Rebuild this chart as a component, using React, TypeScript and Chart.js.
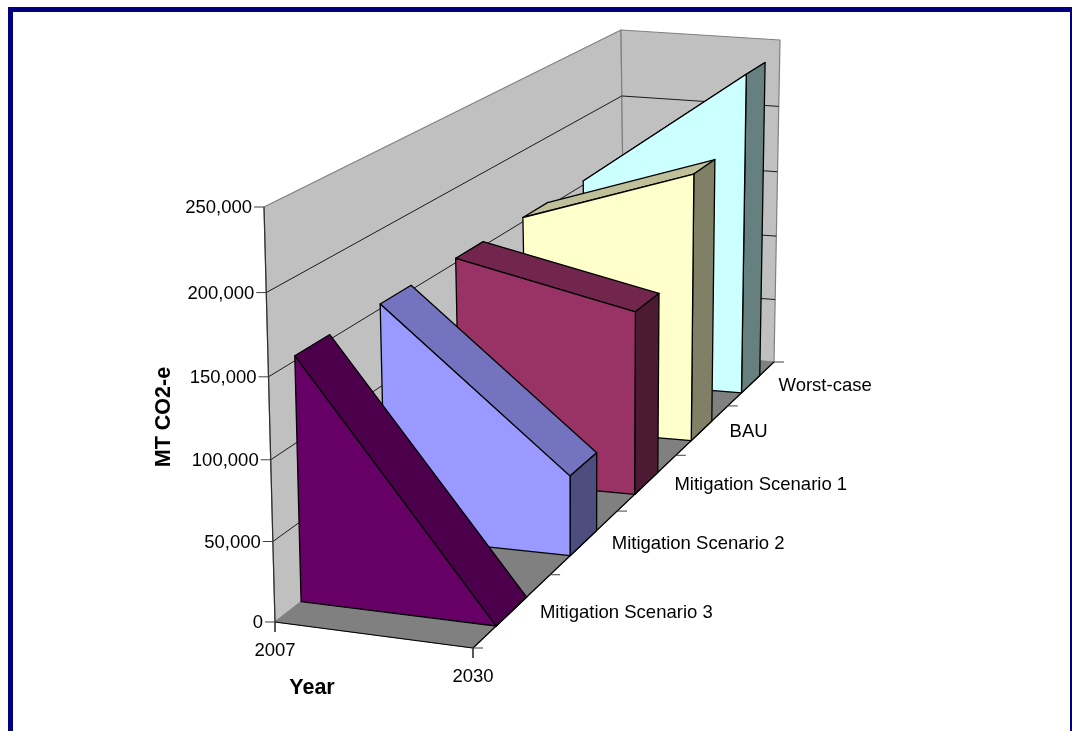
import React, { useEffect, useRef } from "react";
import { Chart, registerables } from "chart.js";

Chart.register(...registerables);

const W = 1072;
const H = 731;

// Scenarios from the front of the depth axis to the back.
const categories = ["Mitigation Scenario 3", "Mitigation Scenario 2", "Mitigation Scenario 1", "BAU", "Worst-case"];
const years = [2007, 2030];
const mitigation3 = [153000, 0];
const mitigation2 = [153000, 53000];
const mitigation1 = [153000, 127000];
const bau = [153000, 193000];
const worstCase = [153000, 240000];
const valueTicks = [0, 50000, 100000, 150000, 200000, 250000];

const seriesValues = [mitigation3, mitigation2, mitigation1, bau, worstCase];
const faceColors = [
  { front: "#660066", top: "#4C004C", side: "#330033" },
  { front: "#9999FF", top: "#7373BF", side: "#4D4D80" },
  { front: "#993366", top: "#73264D", side: "#4D1A33" },
  { front: "#FFFFCC", top: "#BFBF99", side: "#808066" },
  { front: "#CCFFFF", top: "#99BFBF", side: "#668080" },
];

type P = { x: number; y: number };

// Screen position of the eight corners of the plot box.
const boxFloor = {
  frontLeft: { x: 275, y: 622 },
  frontRight: { x: 473, y: 648 },
  backRight: { x: 774, y: 362 },
  backLeft: { x: 625, y: 350 },
};
const boxTop = {
  frontLeft: { x: 264, y: 207 },
  frontRight: { x: 469.5, y: 230 },
  backRight: { x: 780, y: 40 },
  backLeft: { x: 621, y: 30 },
};
const DEPTH_PERSPECTIVE_LEFT = 0.75;
const DEPTH_PERSPECTIVE_RIGHT = 0.726;
const HEIGHT_PERSPECTIVE = 1.039;
const SLAB_FRONT = 0.285;
const SLAB_BACK = 0.68;
const VALUE_MAX = 250000;

const lerp = (a: P, b: P, f: number): P => ({ x: a.x + (b.x - a.x) * f, y: a.y + (b.y - a.y) * f });

// Projects (year, depth in category units, value) into the flat chart plane.
function project(year: number, depth: number, value: number): P {
  const t = (year - years[0]) / (years[years.length - 1] - years[0]);
  const u = depth / categories.length;
  const k = DEPTH_PERSPECTIVE_LEFT + (DEPTH_PERSPECTIVE_RIGHT - DEPTH_PERSPECTIVE_LEFT) * t;
  const d = u / (u + k * (1 - u));
  const r = value / VALUE_MAX;
  const v = r / (r + HEIGHT_PERSPECTIVE * (1 - r));
  const floor = lerp(lerp(boxFloor.frontLeft, boxFloor.frontRight, t), lerp(boxFloor.backLeft, boxFloor.backRight, t), d);
  const top = lerp(lerp(boxTop.frontLeft, boxTop.frontRight, t), lerp(boxTop.backLeft, boxTop.backRight, t), d);
  return lerp(floor, top, v);
}

const y0 = years[0];
const y1 = years[years.length - 1];
const depthEnd = categories.length;

function face(points: P[], fill: string, stroke: string, lineWidth = 1.3) {
  return { type: "scatter" as const, data: points, face: true, backgroundColor: fill, borderColor: stroke, borderWidth: lineWidth, pointRadius: 0 };
}
function line(points: P[], color: string, lineWidth = 1) {
  return { type: "scatter" as const, data: points, showLine: true, borderColor: color, borderWidth: lineWidth, pointRadius: 0, fill: false };
}

function buildDatasets() {
  const sets: any[] = [];
  // Walls and floor
  sets.push(face([project(y0, 0, 0), project(y0, depthEnd, 0), project(y0, depthEnd, VALUE_MAX), project(y0, 0, VALUE_MAX)], "#C0C0C0", "#808080", 1.2));
  sets.push(face([project(y0, depthEnd, 0), project(y1, depthEnd, 0), project(y1, depthEnd, VALUE_MAX), project(y0, depthEnd, VALUE_MAX)], "#C0C0C0", "#808080", 1.2));
  sets.push(face([project(y0, 0, 0), project(y1, 0, 0), project(y1, depthEnd, 0), project(y0, depthEnd, 0)], "#808080", "#808080", 1));
  // Gridlines across both walls
  valueTicks.slice(1, -1).forEach((v) => {
    sets.push(line([project(y0, 0, v), project(y0, depthEnd, v), project(y1, depthEnd, v)], "#1a1a1a", 1));
  });
  // Axis lines
  sets.push(line([project(y0, 0, 0), project(y0, 0, VALUE_MAX)], "#303030", 1.2));
  sets.push(line([project(y0, 0, 0), project(y1, 0, 0)], "#000000", 1.2));
  sets.push(line([project(y1, 0, 0), project(y1, depthEnd, 0)], "#000000", 1.2));
  // Slabs, back to front
  for (let i = categories.length - 1; i >= 0; i--) {
    const vals = seriesValues[i];
    const a = i + SLAB_FRONT;
    const b = i + SLAB_BACK;
    const c = faceColors[i];
    const last = vals[vals.length - 1];
    sets.push(face([project(y0, a, vals[0]), project(y1, a, last), project(y1, b, last), project(y0, b, vals[0])], c.top, "#000000"));
    sets.push(face([project(y1, a, 0), project(y1, b, 0), project(y1, b, last), project(y1, a, last)], c.side, "#000000"));
    sets.push(face([project(y0, a, 0), project(y1, a, 0), project(y1, a, last), project(y0, a, vals[0])], c.front, "#000000"));
  }
  // Tick marks
  const tickColor = "#404040";
  valueTicks.forEach((v) => {
    const p = project(y0, 0, v);
    sets.push(line([p, { x: p.x - 10, y: p.y }], tickColor, 1));
  });
  years.forEach((yr) => {
    const p = project(yr, 0, 0);
    sets.push(line([p, { x: p.x, y: p.y + 10 }], tickColor, 1));
  });
  for (let i = 0; i <= categories.length; i++) {
    const p = project(y1, i, 0);
    sets.push(line([p, { x: p.x + 10, y: p.y }], tickColor, 1));
  }
  // Chart.js paints the first dataset last, so the list runs top layer first.
  return sets.reverse();
}

// Fills and outlines datasets flagged as faces from their scale-resolved points.
const facePlugin = {
  id: "faces",
  beforeDatasetDraw(chart: any, args: any) {
    const ds = chart.data.datasets[args.index];
    if (!ds.face) return;
    const pts = chart.getDatasetMeta(args.index).data;
    const ctx = chart.ctx;
    ctx.save();
    ctx.beginPath();
    pts.forEach((p: any, i: number) => (i ? ctx.lineTo(p.x, p.y) : ctx.moveTo(p.x, p.y)));
    ctx.closePath();
    ctx.fillStyle = ds.backgroundColor;
    ctx.fill();
    ctx.strokeStyle = ds.borderColor;
    ctx.lineWidth = ds.borderWidth;
    ctx.lineJoin = "round";
    ctx.stroke();
    ctx.restore();
    return false;
  },
};

const FONT = '"Liberation Sans", Arial, sans-serif';

// Axis tick labels and axis titles placed on the projected axes.
const labelPlugin = {
  id: "axisLabels",
  afterDraw(chart: any) {
    const { ctx, scales } = chart;
    const sx = (p: P) => scales.x.getPixelForValue(p.x);
    const sy = (p: P) => scales.y.getPixelForValue(p.y);
    ctx.save();
    ctx.fillStyle = "#000000";
    ctx.font = `18.5px ${FONT}`;
    ctx.textBaseline = "middle";
    ctx.textAlign = "right";
    valueTicks.forEach((v) => {
      const p = project(y0, 0, v);
      ctx.fillText(v.toLocaleString("en-US"), sx(p) - 12, sy(p) + 1);
    });
    ctx.textAlign = "center";
    ctx.textBaseline = "alphabetic";
    years.forEach((yr) => {
      const p = project(yr, 0, 0);
      ctx.fillText(String(yr), sx(p), sy(p) + 33.5);
    });
    ctx.textAlign = "left";
    ctx.textBaseline = "middle";
    categories.forEach((name, i) => {
      const p = project(y1, i + 0.5, 0);
      ctx.fillText(name, sx(p) + 27, sy(p) + 2.5);
    });
    ctx.font = `bold 21.5px ${FONT}`;
    ctx.textAlign = "center";
    ctx.fillText("Year", 312, 688);
    ctx.translate(164, 417);
    ctx.rotate(-Math.PI / 2);
    ctx.fillText("MT CO2-e", 0, 0);
    ctx.restore();
  },
};

export default function App() {
  const ref = useRef<HTMLCanvasElement>(null);
  useEffect(() => {
    document.body.style.margin = "0";
    const chart = new Chart(ref.current as HTMLCanvasElement, {
      type: "scatter",
      data: { datasets: buildDatasets() },
      options: {
        responsive: false,
        animation: false,
        events: [],
        layout: { padding: 0 },
        scales: {
          x: { type: "linear", min: 0, max: W, display: false },
          y: { type: "linear", min: 0, max: H, reverse: true, display: false },
        },
        plugins: { legend: { display: false }, tooltip: { enabled: false }, title: { display: false } },
      },
      plugins: [facePlugin, labelPlugin],
    } as any);
    return () => chart.destroy();
  }, []);
  return (
    <div style={{ position: "fixed", left: 0, top: 0, width: W, height: H, overflow: "hidden", background: "#fff" }}>
      <canvas ref={ref} width={W} height={H} style={{ position: "absolute", left: 0, top: 0, display: "block" }} />
      <div style={{ position: "absolute", left: 8, top: 7, width: 1057, height: 800, border: "5px solid #000080" }} />
    </div>
  );
}
